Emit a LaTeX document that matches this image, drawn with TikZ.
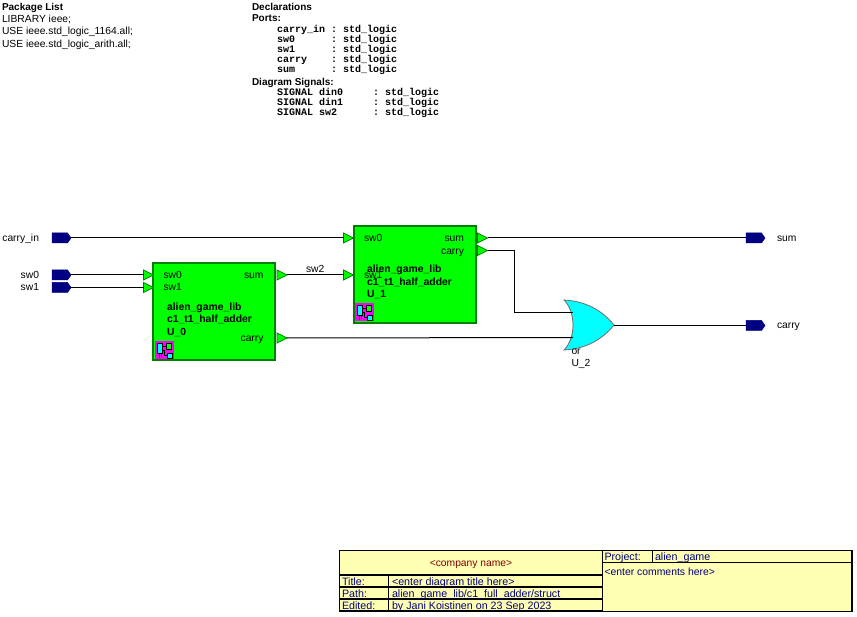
\documentclass[tikz,border=0pt]{standalone}
\usepackage{fontspec}
\setmainfont{Liberation Sans}
\setmonofont{Liberation Mono}
\usetikzlibrary{shapes.geometric,shapes.symbols}
\definecolor{blockgreen}{RGB}{0,255,0}
\definecolor{blockedge}{RGB}{0,128,0}
\definecolor{portnavy}{RGB}{0,0,128}
\definecolor{gatecyan}{RGB}{0,255,255}
\definecolor{gateedge}{RGB}{110,110,110}
\definecolor{iconpink}{RGB}{255,0,255}
\definecolor{paper}{RGB}{255,255,179}
\definecolor{ink}{RGB}{0,0,128}
\definecolor{rust}{RGB}{128,0,0}
\newcommand{\monogap}[1]{\hspace*{\dimexpr #1\dimexpr 6pt\relax\relax}}
\newcommand{\blockfont}{\fontsize{10.4}{12}\selectfont\bfseries}
\tikzset{
  txt/.style={anchor=base west,inner sep=0pt,outer sep=0pt,font=\fontsize{10.3}{12}\selectfont},
  txtc/.style={txt,anchor=base},
  txte/.style={txt,anchor=base east},
  hdr/.style={txt,font=\fontsize{10}{12}\selectfont\bfseries},
  mono/.style={txt,font=\fontsize{10}{10}\ttfamily\bfseries},
  wire/.style={draw=black,line width=1pt},
  portbox/.style={draw=portnavy,fill=portnavy,signal,signal to=east,signal from=nowhere,signal pointer angle=110,
     minimum width=19pt,minimum height=10pt,inner sep=0pt,outer sep=0pt,line width=.5pt},
  tri/.style={isosceles triangle,isosceles triangle stretches,draw=blockedge,fill=blockgreen,line width=.8pt,
     minimum width=10pt,minimum height=10pt,inner sep=0pt,outer sep=0pt,anchor=lower side},
  block/.style={draw=blockedge,fill=blockgreen,line width=2pt,anchor=north west,minimum width=122pt,minimum height=97pt,inner sep=0pt,outer sep=0pt},
  cell/.style={draw=black,fill=paper,line width=1.5pt,anchor=north west,inner sep=0pt,outer sep=0pt},
  tb/.style={txt,text=ink,font=\fontsize{10.7}{12}\selectfont},
}
\newcommand{\blockicon}[2]{%
  \begin{scope}[shift={(#1,#2)}]
    \fill[iconpink] (0,0) rectangle (19,18);
    \draw[black,line width=.7pt,fill=gatecyan] (2,2) rectangle (7,12);
    \draw[black,line width=.7pt,fill=blockgreen] (11,2) rectangle (16,8);
    \draw[black,line width=.7pt,fill=gatecyan] (12,12) rectangle (17,17);
    \draw[black,line width=.7pt] (7,5) -- (11,5) (7,9) -- (9,9) -- (9,14) -- (12,14) (4,12) -- (4,17) (6,12) -- (6,16);
  \end{scope}}
\begin{document}
\begin{tikzpicture}[x=1pt,y=-1pt]
\useasboundingbox (0,0) rectangle (857,617);
\fill[white] (0,0) rectangle (857,617);

% package list
\node[hdr] (pkg) at (2,10.5) {Package List};
\node[txt] (pkg1) at (2,22.5) {LIBRARY ieee;};
\node[txt] (pkg2) at (2,35) {USE ieee.std\_logic\_1164.all;};
\node[txt] (pkg3) at (2,47.5) {USE ieee.std\_logic\_arith.all;};

% declarations
\node[hdr] (decl) at (252,10.5) {Declarations};
\node[hdr] (ports) at (252,22) {Ports:};
\node[mono] (d1) at (277,33) {carry\_in : std\_logic};
\node[mono] (d2) at (277,43) {sw0\monogap{6}: std\_logic};
\node[mono] (d3) at (277,53) {sw1\monogap{6}: std\_logic};
\node[mono] (d4) at (277,63) {carry\monogap{4}: std\_logic};
\node[mono] (d5) at (277,73) {sum\monogap{6}: std\_logic};
\node[hdr] (sigs) at (252,86) {Diagram Signals:};
\node[mono] (s1) at (277,96) {SIGNAL din0\monogap{5}: std\_logic};
\node[mono] (s2) at (277,106) {SIGNAL din1\monogap{5}: std\_logic};
\node[mono] (s3) at (277,116) {SIGNAL sw2\monogap{6}: std\_logic};

% blocks
\node[block] (u0) at (153,263.5) {};
\node[block] (u1) at (354,226.5) {};
\blockicon{155}{341}
\blockicon{355}{303}

% block pins
\node[tri] (u0a) at (143.5,275) {};
\node[tri] (u0b) at (143.5,287.5) {};
\node[tri] (u0s) at (277,275) {};
\node[tri] (u0c) at (277,338) {};
\node[tri] (u1a) at (343.5,238) {};
\node[tri] (u1b) at (343.5,275) {};
\node[tri] (u1s) at (477.5,238) {};
\node[tri] (u1c) at (477.5,250.5) {};

% block text
\node[txt] at (163.5,279) {sw0};
\node[txt] at (163.5,291) {sw1};
\node[txte] at (263.5,279) {sum};
\node[txte] at (263.5,341.5) {carry};
\node[txt] at (167,310.5) {\blockfont alien\_game\_lib};
\node[txt] at (167,322.5) {\blockfont c1\_t1\_half\_adder};
\node[txt] at (167,335.5) {\blockfont U\_0};
\node[txt] at (364,241.5) {sw0};
\node[txt] at (364,279) {sw1};
\node[txte] at (464,241.5) {sum};
\node[txte] at (464,254.5) {carry};
\node[txt] at (367,273) {\blockfont alien\_game\_lib};
\node[txt] at (367,285.5) {\blockfont c1\_t1\_half\_adder};
\node[txt] at (367,297.5) {\blockfont U\_1};

% ports
\node[portbox,anchor=east] (pci) at (71,238) {};
\node[portbox,anchor=east] (psw0) at (71,275) {};
\node[portbox,anchor=east] (psw1) at (71,287.5) {};
\node[portbox,anchor=east] (psum) at (765,238) {};
\node[portbox,anchor=east] (pcar) at (765,325.5) {};
\node[txte] at (39,241.5) {carry\_in};
\node[txte] at (39,279) {sw0};
\node[txte] at (39,291) {sw1};
\node[txt] at (777,241.5) {sum};
\node[txt] at (777,329) {carry};

% OR gate
\path[draw=gateedge,fill=gatecyan,line width=.8pt] (564,300)
  .. controls (585,301) and (602,310) .. (614,325)
  .. controls (602,340) and (585,349) .. (564,350)
  .. controls (576,338) and (576,312) .. (564,300) -- cycle;
\coordinate (orA) at (573,312.5);
\coordinate (orB) at (573,337.5);
\coordinate (orY) at (614,325.5);
\node[txt] at (571.5,355) {or};
\node[txt] at (571.5,366.5) {U\_2};

% wires
\draw[wire] (pci.east) -- (u1a.lower side);
\draw[wire] (psw0.east) -- (u0a.lower side);
\draw[wire] (psw1.east) -- (u0b.lower side);
\draw[wire] (u0s.apex) -- (u1b.lower side) node[midway,above=0pt,inner sep=2pt,font=\fontsize{10.3}{12}\selectfont] (sw2lab) {sw2};
\draw[wire] (u0c.apex) -- (orB);
\draw[wire] (u1s.apex) -- (psum.west);
\draw[wire] (u1c.apex) -- (514,250.5) -- (514,312.5) -- (orA);
\draw[wire] (orY) -- (pcar.west);

% title block
\node[cell,minimum width=263pt,minimum height=24.5pt] (company) at (339.5,550.5) {};
\node[cell,minimum width=49pt,minimum height=12pt] (tl) at (339.5,575) {};
\node[cell,minimum width=214pt,minimum height=12pt] (tv) at (388.5,575) {};
\node[cell,minimum width=49pt,minimum height=12pt] (pl) at (339.5,587) {};
\node[cell,minimum width=214pt,minimum height=12pt] (pv) at (388.5,587) {};
\node[cell,minimum width=49pt,minimum height=12pt] (el) at (339.5,599) {};
\node[cell,minimum width=214pt,minimum height=12pt] (ev) at (388.5,599) {};
\node[cell,minimum width=50pt,minimum height=12pt] (prl) at (602.5,550.5) {};
\node[cell,minimum width=199.5pt,minimum height=12pt] (prv) at (652.5,550.5) {};
\node[cell,minimum width=249.5pt,minimum height=49pt] (cmt) at (602.5,562.5) {};
\node[txtc,text=rust] at (471,566) {<company name>};
\node[tb] at (342,585) {Title:};
\node[tb] at (392,585) {<enter diagram title here>};
\node[tb] at (342,597) {Path:};
\node[tb] at (392,597) {alien\_game\_lib/c1\_full\_adder/struct};
\node[tb] at (342,609.5) {Edited:};
\node[tb] at (392,609.5) {by Jani Koistinen on 23 Sep 2023};
\node[tb] at (604.5,560) {Project:};
\node[tb] at (655,560) {alien\_game};
\node[tb,font=\fontsize{10.4}{12}\selectfont] at (604.5,575) {<enter comments here>};
\end{tikzpicture}
\end{document}
